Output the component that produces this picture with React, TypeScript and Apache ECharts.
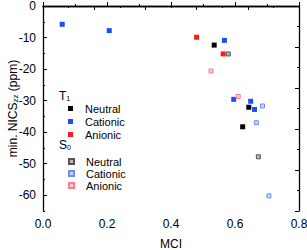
import React, { useEffect, useRef } from "react";
import * as echarts from "echarts";

const t1Neutral: number[][] = [[0.535, -12.4], [0.643, -32.1], [0.624, -38.3]];
const t1Cationic: number[][] = [[0.06, -5.8], [0.207, -7.8], [0.567, -10.9], [0.596, -29.6], [0.649, -30.2], [0.661, -32.8]];
const t1Anionic: number[][] = [[0.48, -9.9], [0.563, -15.2]];
const s0Neutral: number[][] = [[0.579, -15.2], [0.673, -47.8]];
const s0Cationic: number[][] = [[0.686, -31.7], [0.667, -37.0], [0.706, -60.2]];
const s0Anionic: number[][] = [[0.525, -20.6], [0.61, -28.7]];

const yMajorTicks = [0, -10, -20, -30, -40, -50, -60];
const yMinorTicks = [-5, -15, -25, -35, -45, -55, -65];

const FONT = "Arial, 'Liberation Sans', sans-serif";

export default function App() {
  const ref = useRef<HTMLDivElement>(null);
  useEffect(() => {
    if (!ref.current) return;
    const chart = echarts.init(ref.current, undefined, { renderer: "svg" });
    const axisLine = { show: true, lineStyle: { color: "#000", width: 1.3 } };
    const t1 = (name: string, data: number[][], color: string) => ({
      type: "scatter",
      name,
      data,
      symbol: "rect",
      symbolSize: 5,
      itemStyle: { color, opacity: 1 },
      xAxisIndex: 0,
      yAxisIndex: 0,
    });
    const s0 = (name: string, data: number[][], fill: string, border: string) => ({
      type: "scatter",
      name,
      data,
      symbol: "rect",
      symbolSize: 4,
      itemStyle: { color: fill, borderColor: border, borderWidth: 1, opacity: 1 },
      xAxisIndex: 0,
      yAxisIndex: 0,
    });
    chart.setOption({
      animation: false,
      textStyle: { fontFamily: FONT },
      grid: { left: 43, right: 8, top: 6, bottom: 39, outerBoundsMode: "none", containLabel: false },
      xAxis: [
        {
          type: "value",
          position: "bottom",
          min: 0,
          max: 0.8,
          interval: 0.2,
          name: "MCI",
          nameLocation: "middle",
          nameGap: 27,
          nameMoveOverlap: false,
          nameTextStyle: { fontSize: 12, color: "#000", fontFamily: FONT },
          axisLine,
          axisTick: { show: true, inside: true, length: 4, lineStyle: { color: "#000" } },
          minorTick: { show: true, splitNumber: 2, length: 2, lineStyle: { color: "#000" } },
          axisLabel: { fontSize: 12, color: "#000", margin: 7, fontFamily: FONT, formatter: (v: number) => v.toFixed(1) },
          splitLine: { show: false },
        },
        {
          type: "value",
          position: "top",
          min: 0,
          max: 0.8,
          interval: 0.16,
          axisLine,
          axisTick: { show: true, inside: true, length: 4, lineStyle: { color: "#000" } },
          minorTick: { show: true, splitNumber: 2, length: 2, lineStyle: { color: "#000" } },
          axisLabel: { show: false },
          splitLine: { show: false },
        },
      ],
      yAxis: [
        {
          type: "value",
          position: "left",
          min: -65,
          max: 0,
          name: "min. NICS{sub|zz} (ppm)",
          nameLocation: "middle",
          nameGap: 24,
          nameMoveOverlap: false,
          nameTextStyle: {
            fontSize: 12,
            color: "#000",
            fontFamily: FONT,
            rich: { sub: { fontSize: 8, color: "#000", fontFamily: FONT, padding: [5, 0, 0, 0] } },
          },
          axisLine,
          axisTick: { show: true, inside: true, length: 4, customValues: yMajorTicks, lineStyle: { color: "#000" } },
          axisLabel: { fontSize: 12, color: "#000", margin: 7, fontFamily: FONT, customValues: yMajorTicks },
          splitLine: { show: false },
        },
        {
          type: "value",
          position: "left",
          min: -65,
          max: 0,
          axisLine: { show: false },
          axisTick: { show: true, inside: true, length: 2, customValues: yMinorTicks, lineStyle: { color: "#000" } },
          axisLabel: { show: false },
          splitLine: { show: false },
        },
        {
          type: "value",
          position: "right",
          min: -65,
          max: 0,
          interval: 13,
          axisLine,
          axisTick: { show: true, inside: true, length: 4, lineStyle: { color: "#000" } },
          minorTick: { show: true, splitNumber: 2, length: 2, lineStyle: { color: "#000" } },
          axisLabel: { show: false },
          splitLine: { show: false },
        },
      ],
      legend: [
        {
          orient: "vertical",
          left: 68,
          top: 103,
          padding: 0,
          itemWidth: 5,
          itemHeight: 5,
          itemGap: 2,
          icon: "rect",
          data: ["T1 Neutral", "T1 Cationic", "T1 Anionic"],
          formatter: (n: string) => n.split(" ")[1],
          textStyle: { fontSize: 11, color: "#000", fontFamily: FONT, padding: [0, 0, 0, 7] },
        },
        {
          orient: "vertical",
          left: 68,
          top: 156,
          padding: 0,
          itemWidth: 5,
          itemHeight: 5,
          itemGap: 1,
          icon: "rect",
          data: ["S0 Neutral", "S0 Cationic", "S0 Anionic"],
          formatter: (n: string) => n.split(" ")[1],
          textStyle: { fontSize: 11, color: "#000", fontFamily: FONT, padding: [0, 0, 0, 7] },
        },
      ],
      graphic: [
        {
          type: "text",
          left: 59,
          top: 90,
          style: {
            text: "T{s|1}",
            font: `12px ${FONT}`,
            fill: "#000",
            rich: { s: { fontSize: 7, fill: "#000", padding: [5, 0, 0, 0] } },
          },
        },
        {
          type: "text",
          left: 59,
          top: 139,
          style: {
            text: "S{s|0}",
            font: `12px ${FONT}`,
            fill: "#000",
            rich: { s: { fontSize: 7, fill: "#000", padding: [5, 0, 0, 0] } },
          },
        },
      ],
      series: [
        t1("T1 Neutral", t1Neutral, "#000000"),
        t1("T1 Cationic", t1Cationic, "#1e4cff"),
        t1("T1 Anionic", t1Anionic, "#ff1a1a"),
        s0("S0 Neutral", s0Neutral, "#b8b8b8", "#555555"),
        s0("S0 Cationic", s0Cationic, "#c8d4ff", "#6d8cff"),
        s0("S0 Anionic", s0Anionic, "#ffd0d6", "#ff7a8c"),
      ],
    });
    return () => chart.dispose();
  }, []);
  return <div ref={ref} style={{ width: 307, height: 250, position: "absolute", left: 0, top: 0 }} />;
}
